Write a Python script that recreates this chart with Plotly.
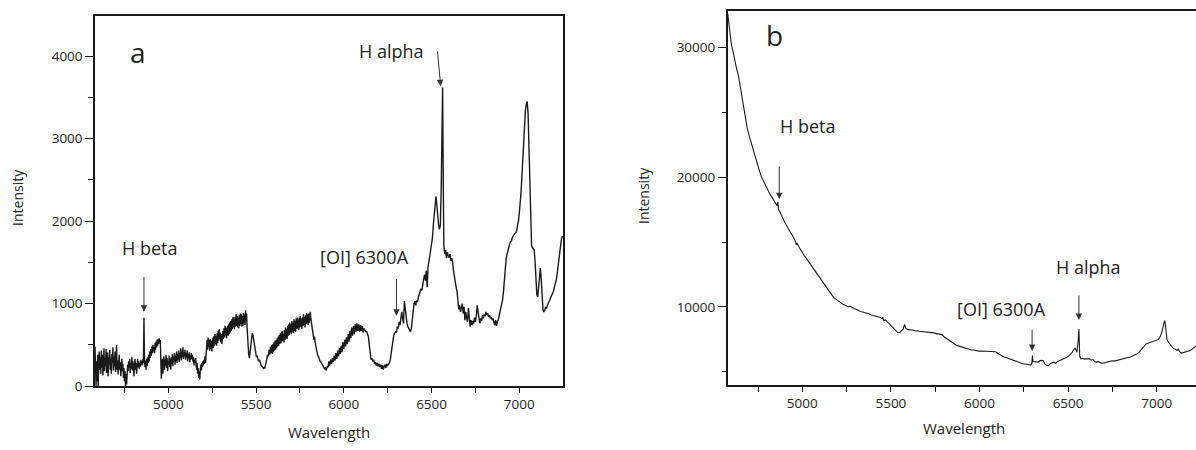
import plotly.graph_objects as go

# ---------------- Panel a data (wavelength, intensity) ----------------
wl_a = [4582, 4585, 4588, 4591, 4594, 4597, 4600, 4603, 4606, 4609, 4612, 4615, 4618, 4621, 4624, 4627,
        4630, 4633, 4636, 4639, 4642, 4645, 4648, 4651, 4654, 4657, 4660, 4663, 4666, 4669, 4672, 4675,
        4678, 4681, 4684, 4687, 4690, 4693, 4696, 4699, 4702, 4705, 4708, 4711, 4714, 4717, 4720, 4723,
        4726, 4729, 4732, 4735, 4738, 4741, 4744, 4747, 4750, 4753, 4756, 4759, 4762, 4765, 4768, 4771,
        4774, 4777, 4780, 4783, 4786, 4789, 4792, 4795, 4798, 4801, 4804, 4807, 4810, 4813, 4816, 4819,
        4822, 4825, 4828, 4831, 4834, 4837, 4840, 4843, 4846, 4849, 4852, 4855, 4858, 4861, 4864, 4867,
        4870, 4873, 4876, 4879, 4882, 4885, 4888, 4891, 4894, 4897, 4900, 4903, 4906, 4909, 4912, 4915,
        4918, 4921, 4924, 4927, 4930, 4933, 4936, 4939, 4942, 4945, 4948, 4951, 4954, 4957, 4960, 4963,
        4966, 4969, 4972, 4975, 4978, 4981, 4984, 4987, 4990, 4993, 4996, 4999, 5002, 5005, 5008, 5011,
        5014, 5017, 5020, 5023, 5026, 5029, 5032, 5035, 5038, 5041, 5044, 5047, 5050, 5053, 5056, 5059,
        5062, 5065, 5068, 5071, 5074, 5077, 5080, 5083, 5086, 5089, 5092, 5095, 5098, 5101, 5104, 5107,
        5110, 5113, 5116, 5119, 5122, 5125, 5128, 5131, 5134, 5137, 5140, 5143, 5146, 5149, 5152, 5155,
        5158, 5161, 5164, 5167, 5170, 5173, 5176, 5179, 5182, 5185, 5188, 5191, 5194, 5197, 5200, 5203,
        5206, 5209, 5212, 5215, 5218, 5221, 5224, 5227, 5230, 5233, 5236, 5239, 5242, 5245, 5248, 5251,
        5254, 5257, 5260, 5263, 5266, 5269, 5272, 5275, 5278, 5281, 5284, 5287, 5290, 5293, 5296, 5299,
        5302, 5305, 5308, 5311, 5314, 5317, 5320, 5323, 5326, 5329, 5332, 5335, 5338, 5341, 5344, 5347,
        5350, 5353, 5356, 5359, 5362, 5365, 5368, 5371, 5374, 5377, 5380, 5383, 5386, 5389, 5392, 5395,
        5398, 5401, 5404, 5407, 5410, 5413, 5416, 5419, 5422, 5425, 5428, 5431, 5434, 5437, 5440, 5443,
        5446, 5449, 5452, 5455, 5458, 5462, 5466, 5470, 5474, 5478, 5482, 5486, 5490, 5494, 5498, 5502,
        5506, 5510, 5514, 5518, 5522, 5526, 5530, 5534, 5538, 5542, 5546, 5550, 5554, 5558, 5562, 5566,
        5570, 5574, 5578, 5582, 5586, 5590, 5593, 5596, 5599, 5602, 5605, 5608, 5611, 5614, 5617, 5620,
        5623, 5626, 5629, 5632, 5635, 5638, 5641, 5644, 5647, 5650, 5653, 5656, 5659, 5662, 5665, 5668,
        5671, 5674, 5677, 5680, 5683, 5686, 5689, 5692, 5695, 5698, 5701, 5704, 5707, 5710, 5713, 5716,
        5719, 5722, 5725, 5728, 5731, 5734, 5737, 5740, 5743, 5746, 5749, 5752, 5755, 5758, 5761, 5764,
        5767, 5770, 5773, 5776, 5779, 5782, 5785, 5788, 5791, 5794, 5797, 5800, 5803, 5806, 5809, 5812,
        5815, 5818, 5821, 5824, 5827, 5830, 5833, 5836, 5840, 5845, 5850, 5855, 5860, 5865, 5870, 5875,
        5880, 5885, 5890, 5895, 5900, 5905, 5910, 5915, 5920, 5925, 5930, 5935, 5940, 5945, 5950, 5955,
        5960, 5965, 5970, 5975, 5980, 5985, 5990, 5995, 6000, 6005, 6010, 6015, 6020, 6025, 6030, 6035,
        6040, 6045, 6050, 6055, 6060, 6065, 6070, 6075, 6080, 6085, 6090, 6095, 6100, 6105, 6110, 6115,
        6120, 6125, 6130, 6135, 6140, 6145, 6150, 6155, 6160, 6165, 6170, 6175, 6180, 6185, 6190, 6195,
        6200, 6205, 6210, 6215, 6220, 6225, 6230, 6235, 6240, 6245, 6250, 6255, 6260, 6265, 6270, 6275,
        6280, 6285, 6290, 6295, 6300, 6305, 6310, 6315, 6320, 6325, 6330, 6335, 6340, 6345, 6350, 6355,
        6360, 6365, 6370, 6375, 6380, 6385, 6390, 6395, 6400, 6405, 6410, 6415, 6420, 6425, 6430, 6435,
        6440, 6445, 6450, 6455, 6460, 6465, 6470, 6475, 6480, 6485, 6490, 6495, 6500, 6505, 6510, 6515,
        6520, 6525, 6530, 6535, 6540, 6545, 6550, 6555, 6560, 6563, 6567, 6570, 6575, 6580, 6585, 6590,
        6595, 6600, 6605, 6610, 6615, 6620, 6625, 6630, 6635, 6640, 6645, 6650, 6655, 6660, 6665, 6670,
        6675, 6680, 6685, 6690, 6695, 6700, 6705, 6710, 6715, 6720, 6725, 6730, 6735, 6740, 6745, 6750,
        6755, 6760, 6765, 6770, 6775, 6780, 6785, 6790, 6795, 6800, 6805, 6810, 6815, 6820, 6825, 6830,
        6835, 6840, 6845, 6850, 6855, 6860, 6865, 6870, 6875, 6880, 6885, 6890, 6895, 6900, 6905, 6910,
        6915, 6920, 6925, 6930, 6935, 6940, 6945, 6950, 6955, 6960, 6965, 6970, 6975, 6980, 6985, 6990,
        6995, 7000, 7005, 7010, 7015, 7020, 7025, 7030, 7035, 7040, 7045, 7050, 7055, 7060, 7065, 7070,
        7075, 7080, 7085, 7090, 7095, 7100, 7105, 7110, 7115, 7120, 7125, 7130, 7135, 7140, 7145, 7150,
        7155, 7160, 7165, 7170, 7175, 7180, 7185, 7190, 7195, 7200, 7205, 7210, 7215, 7220, 7225, 7230,
        7235, 7240, 7245]
int_a = [480, 120, 0, 300, 60, 380, 0, 250, 420, 200, 350, 150, 430, 220, 380, 130,
         310, 460, 180, 340, 240, 450, 160, 300, 410, 120, 350, 260, 440, 200, 330, 150,
         390, 280, 470, 190, 360, 240, 420, 170, 330, 500, 200, 310, 140, 260, 380, 200,
         290, 120, 250, 330, 180, 270, 100, 220, 60, 180, 0, 150, 20, 200, 260, 180,
         300, 220, 330, 160, 280, 210, 350, 190, 300, 230, 120, 260, 330, 200, 280, 150,
         260, 330, 230, 300, 210, 280, 240, 320, 260, 300, 250, 330, 280, 830, 300, 230,
         310, 200, 330, 240, 350, 280, 380, 300, 420, 340, 450, 370, 480, 400, 500, 420,
         470, 400, 520, 440, 540, 470, 560, 490, 570, 510, 580, 540, 560, 300, 90, 200,
         330, 150, 280, 360, 200, 320, 250, 380, 220, 340, 180, 300, 260, 370, 230, 330,
         200, 350, 270, 390, 240, 360, 290, 400, 260, 370, 300, 420, 280, 390, 320, 430,
         290, 400, 340, 460, 310, 420, 350, 470, 330, 410, 360, 440, 320, 400, 350, 430,
         300, 390, 340, 410, 290, 370, 320, 400, 330, 380, 300, 350, 250, 320, 280, 340,
         260, 200, 280, 150, 220, 100, 180, 80, 200, 260, 190, 280, 230, 300, 250, 320,
         270, 360, 280, 400, 450, 560, 440, 590, 470, 560, 430, 570, 450, 550, 420, 530,
         590, 460, 610, 490, 630, 510, 610, 490, 640, 520, 670, 550, 690, 570, 650, 530,
         630, 510, 610, 670, 570, 700, 590, 730, 610, 710, 580, 690, 730, 610, 750, 630,
         770, 650, 790, 670, 810, 690, 840, 710, 820, 690, 840, 720, 870, 730, 850, 710,
         830, 700, 860, 730, 880, 750, 870, 720, 850, 730, 890, 760, 870, 740, 920, 790,
         880, 700, 520, 440, 380, 340, 420, 520, 600, 640, 620, 560, 480, 430, 380, 350,
         370, 330, 300, 320, 280, 270, 250, 240, 230, 215, 225, 220, 260, 300, 340, 380,
         360, 440, 380, 480, 400, 500, 390, 510, 410, 530, 430, 550, 440, 560, 460, 580,
         480, 600, 490, 620, 510, 640, 520, 660, 540, 670, 550, 630, 530, 680, 560, 710,
         580, 690, 570, 730, 610, 750, 620, 770, 650, 750, 630, 790, 660, 770, 640, 810,
         670, 790, 660, 820, 690, 830, 700, 810, 680, 830, 710, 850, 720, 820, 690, 830,
         730, 870, 740, 840, 710, 860, 750, 890, 760, 870, 740, 880, 770, 900, 900, 820,
         760, 700, 720, 640, 600, 560, 600, 540, 480, 420, 380, 360, 320, 300, 290, 260,
         250, 230, 210, 220, 190, 240, 230, 300, 250, 320, 270, 340, 290, 370, 310, 400,
         330, 430, 360, 460, 390, 490, 410, 530, 450, 560, 480, 590, 510, 630, 540, 670,
         580, 710, 610, 730, 630, 750, 660, 760, 670, 750, 660, 740, 670, 730, 650, 700,
         680, 660, 660, 620, 600, 500, 380, 320, 340, 300, 320, 270, 290, 250, 280, 240,
         270, 230, 260, 210, 250, 200, 240, 260, 220, 270, 250, 260, 280, 320, 380, 450,
         550, 620, 640, 660, 650, 720, 700, 780, 740, 860, 900, 820, 760, 1030, 920, 800,
         760, 720, 700, 680, 660, 700, 800, 920, 1000, 1030, 980, 1040, 1020, 1080, 1120, 1150,
         1180, 1160, 1250, 1300, 1350, 1280, 1400, 1200, 1450, 1500, 1580, 1650, 1720, 1800, 1950, 2100,
         2250, 2300, 2200, 2050, 1950, 1900, 1950, 2400, 3600, 3620, 2400, 1700, 1600, 1650, 1550, 1620,
         1580, 1560, 1600, 1520, 1550, 1500, 1400, 1320, 1270, 1200, 1150, 1050, 930, 980, 900, 950,
         1000, 880, 960, 800, 900, 820, 780, 950, 760, 720, 800, 740, 790, 760, 830, 780,
         850, 980, 900, 800, 760, 820, 790, 860, 820, 870, 850, 900, 860, 880, 840, 860,
         820, 840, 800, 820, 780, 740, 800, 730, 780, 800, 850, 900, 950, 1000, 1050, 1150,
         1300, 1450, 1550, 1600, 1650, 1700, 1720, 1750, 1760, 1800, 1820, 1830, 1850, 1860, 1880, 1950,
         2000, 2100, 2200, 2350, 2550, 2800, 3000, 3200, 3350, 3420, 3450, 3300, 2900, 2400, 2000, 1700,
         1680, 1660, 1650, 1500, 1250, 1110, 1080, 1200, 1350, 1430, 1300, 1100, 920, 900, 920, 960,
         940, 980, 1000, 1020, 1050, 1080, 1100, 1120, 1150, 1200, 1230, 1280, 1350, 1450, 1550, 1650,
         1720, 1780, 1820]

# ---------------- Panel b data (wavelength, intensity) ----------------
wl_b = [4579, 4590, 4600, 4610, 4620, 4630, 4640, 4650, 4660, 4670, 4680, 4690, 4700, 4710, 4720, 4730,
        4740, 4750, 4760, 4770, 4780, 4790, 4800, 4810, 4820, 4830, 4840, 4850, 4858, 4862, 4866, 4875,
        4890, 4900, 4910, 4920, 4930, 4940, 4950, 4960, 4965, 4970, 4980, 4990, 5000, 5010, 5020, 5030,
        5040, 5050, 5060, 5070, 5080, 5090, 5100, 5110, 5120, 5130, 5140, 5150, 5160, 5170, 5180, 5190,
        5200, 5210, 5220, 5230, 5240, 5250, 5260, 5270, 5280, 5290, 5300, 5310, 5320, 5330, 5340, 5350,
        5360, 5370, 5380, 5390, 5400, 5410, 5420, 5430, 5440, 5450, 5455, 5460, 5470, 5480, 5490, 5500,
        5510, 5520, 5530, 5540, 5550, 5560, 5570, 5577, 5585, 5595, 5610, 5620, 5630, 5640, 5650, 5660,
        5670, 5680, 5690, 5700, 5710, 5720, 5730, 5740, 5750, 5760, 5770, 5780, 5790, 5800, 5810, 5820,
        5830, 5840, 5850, 5860, 5870, 5880, 5890, 5900, 5910, 5920, 5930, 5940, 5950, 5960, 5970, 5980,
        5990, 6000, 6010, 6020, 6030, 6040, 6050, 6060, 6070, 6080, 6090, 6100, 6110, 6120, 6130, 6140,
        6150, 6160, 6170, 6180, 6190, 6200, 6210, 6220, 6230, 6240, 6250, 6260, 6270, 6280, 6290, 6296,
        6299, 6302, 6310, 6320, 6330, 6340, 6350, 6360, 6370, 6380, 6390, 6400, 6410, 6420, 6430, 6440,
        6450, 6460, 6470, 6480, 6490, 6500, 6510, 6520, 6530, 6540, 6550, 6556, 6561, 6566, 6572, 6580,
        6590, 6600, 6610, 6620, 6630, 6640, 6650, 6660, 6670, 6680, 6690, 6700, 6710, 6720, 6730, 6740,
        6750, 6760, 6770, 6780, 6790, 6800, 6810, 6820, 6830, 6840, 6850, 6860, 6870, 6880, 6890, 6900,
        6910, 6920, 6930, 6940, 6950, 6960, 6970, 6980, 6990, 7000, 7010, 7020, 7030, 7040, 7046, 7052,
        7058, 7065, 7075, 7085, 7095, 7105, 7115, 7122, 7130, 7140, 7150, 7160, 7170, 7180, 7190, 7200,
        7210, 7222]
int_b = [32600, 31200, 30200, 29600, 28900, 28300, 27800, 27000, 26000, 25100, 24400, 23700, 23200, 22700, 22200, 21700,
         21200, 20800, 20400, 20000, 19700, 19500, 19200, 18900, 18650, 18400, 18150, 17950, 17800, 18100, 17500, 17300,
         16800, 16550, 16300, 16100, 15850, 15600, 15350, 15100, 14850, 14900, 14650, 14400, 14200, 13980, 13800, 13600,
         13400, 13250, 13050, 12850, 12650, 12450, 12250, 12050, 11850, 11650, 11450, 11250, 11050, 10850, 10700, 10600,
         10500, 10350, 10300, 10200, 10150, 10050, 10000, 10050, 9950, 9900, 9850, 9750, 9700, 9650, 9620, 9550,
         9520, 9480, 9450, 9380, 9350, 9300, 9250, 9250, 9180, 9100, 9200, 8950, 9000, 8850, 8700, 8600,
         8450, 8300, 8150, 8000, 8050, 8150, 8300, 8650, 8350, 8250, 8250, 8200, 8200, 8150, 8170, 8130,
         8120, 8100, 8110, 8080, 8050, 8060, 8020, 8000, 7980, 7950, 7930, 7900, 7850, 7700, 7600, 7500,
         7400, 7300, 7200, 7100, 7050, 7000, 6950, 6900, 6880, 6850, 6800, 6750, 6700, 6680, 6650, 6620,
         6600, 6600, 6610, 6600, 6620, 6600, 6610, 6590, 6600, 6580, 6550, 6450, 6350, 6300, 6200, 6150,
         6100, 6000, 5950, 5900, 5850, 5800, 5750, 5720, 5680, 5650, 5620, 5600, 5580, 5550, 5520, 5700,
         6250, 5800, 5780, 5800, 5750, 5850, 5880, 5850, 5600, 5500, 5480, 5650, 5700, 5750, 5650, 5800,
         5850, 5900, 5950, 6050, 6100, 6200, 6300, 6450, 6650, 6850, 6500, 7200, 8300, 6200, 6000, 6050,
         6000, 6000, 5950, 6000, 5900, 5950, 5800, 5750, 5800, 5700, 5650, 5700, 5680, 5750, 5800, 5820,
         5850, 5830, 5860, 5900, 5950, 5980, 6000, 6050, 6080, 6100, 6150, 6200, 6250, 6300, 6400, 6500,
         6650, 6800, 7000, 7150, 7200, 7250, 7300, 7350, 7400, 7450, 7500, 7700, 8100, 8700, 8950, 8300,
         7500, 7300, 7100, 6950, 6800, 6750, 6650, 6750, 6550, 6450, 6480, 6500, 6550, 6600, 6650, 6750,
         6850, 7000]

# ---------------- Labels ----------------
x_title = "Wavelength"
y_title = "Intensity"

W, H = 1196, 450
FONT = "Open Sans, Noto Sans, DejaVu Sans, sans-serif"
INK = "#1a1a1a"


def px(xp):
    return xp / W


def py(yp):
    return 1 - yp / H


fig = go.Figure()
fig.add_trace(go.Scatter(x=wl_a, y=int_a, mode="lines", xaxis="x", yaxis="y",
                         line=dict(color=INK, width=1.4), showlegend=False))
fig.add_trace(go.Scatter(x=wl_b, y=int_b, mode="lines", xaxis="x2", yaxis="y2",
                         line=dict(color=INK, width=1.1), showlegend=False))

common_x = dict(showline=True, linecolor=INK, linewidth=1.5, mirror=True, ticks="outside",
                ticklen=5, tickwidth=1.2, tickcolor=INK, dtick=500, tick0=5000,
                minor=dict(ticks="outside", ticklen=5, dtick=250, tick0=4750, tickcolor=INK, tickwidth=1.2),
                showgrid=False, zeroline=False, tickformat="d",
                tickfont=dict(size=13.5, color="#222", family=FONT))
common_y = dict(showline=True, linecolor=INK, linewidth=1.5, ticks="outside", ticklen=8,
                tickwidth=1.2, tickcolor=INK, showgrid=False, zeroline=False, tickformat="d",
                tickfont=dict(size=13.5, color="#222", family=FONT))

fig.update_layout(
    width=W, height=H, autosize=False,
    margin=dict(l=0, r=0, t=0, b=0),
    paper_bgcolor="white", plot_bgcolor="white",
    font=dict(family=FONT, color="#222"),
    xaxis=dict(domain=[px(95), px(563)], range=[4582, 7249], anchor="y", **common_x),
    yaxis=dict(domain=[py(394), py(16)], range=[0, 4490], anchor="x", dtick=1000, mirror=True,
               minor=dict(ticks="outside", ticklen=5, dtick=500, tickcolor=INK, tickwidth=1.2),
               **common_y),
    xaxis2=dict(domain=[px(727.7), 1.0], range=[4579, 7222], anchor="y2", **common_x),
    yaxis2=dict(domain=[py(392.7), py(11.7)], range=[4000, 32760], anchor="x2", dtick=10000,
                tick0=0, mirror=False,
                minor=dict(ticks="outside", ticklen=4, dtick=5000, tick0=0, tickcolor=INK, tickwidth=1.2),
                **common_y),
)

anns = []


def label(text, xp, yp, size, angle=0):
    anns.append(dict(text=text, x=px(xp), y=py(yp), xref="paper", yref="paper",
                     showarrow=False, xanchor="center", yanchor="middle", textangle=angle,
                     font=dict(size=size, family=FONT, color="#222")))


def arrow(xr, yr, x_head, y_head, x_tail, y_tail):
    anns.append(dict(x=x_head, y=y_head, ax=x_tail, ay=y_tail, xref=xr, yref=yr, axref=xr, ayref=yr,
                     text="", showarrow=True, arrowhead=2, arrowsize=1.3, arrowwidth=1,
                     arrowcolor="#333", standoff=0, startstandoff=0))


# axis titles
label(y_title, 18, 202, 14, -90)
label(x_title, 329, 441, 15)
label(y_title, 643, 200, 14, -90)
label(x_title, 964, 437, 15)

# panel a texts and arrows
label("a", 138, 53, 28)
label("H alpha", 391, 52, 18)
label("H beta", 150, 253, 18)
label("[OI] 6300A", 364, 262, 18)
arrow("x", "y", 4861, 900, 4861, 1340)
arrow("x", "y", 6300, 853, 6300, 1315)
arrow("x", "y", 6552, 3634, 6533, 4076)

# panel b texts and arrows
label("b", 774, 36, 28)
label("H beta", 808, 129, 18)
label("[OI] 6300A", 1001, 315, 18)
label("H alpha", 1088, 272, 18)
arrow("x2", "y2", 4870, 18302, 4870, 20943)
arrow("x2", "y2", 6297, 6604, 6297, 8362)
arrow("x2", "y2", 6561, 8989, 6561, 11004)

fig.update_layout(annotations=anns)
fig.write_html("out.html", config={"displayModeBar": False},
               post_script="document.body.style.margin='0';")
